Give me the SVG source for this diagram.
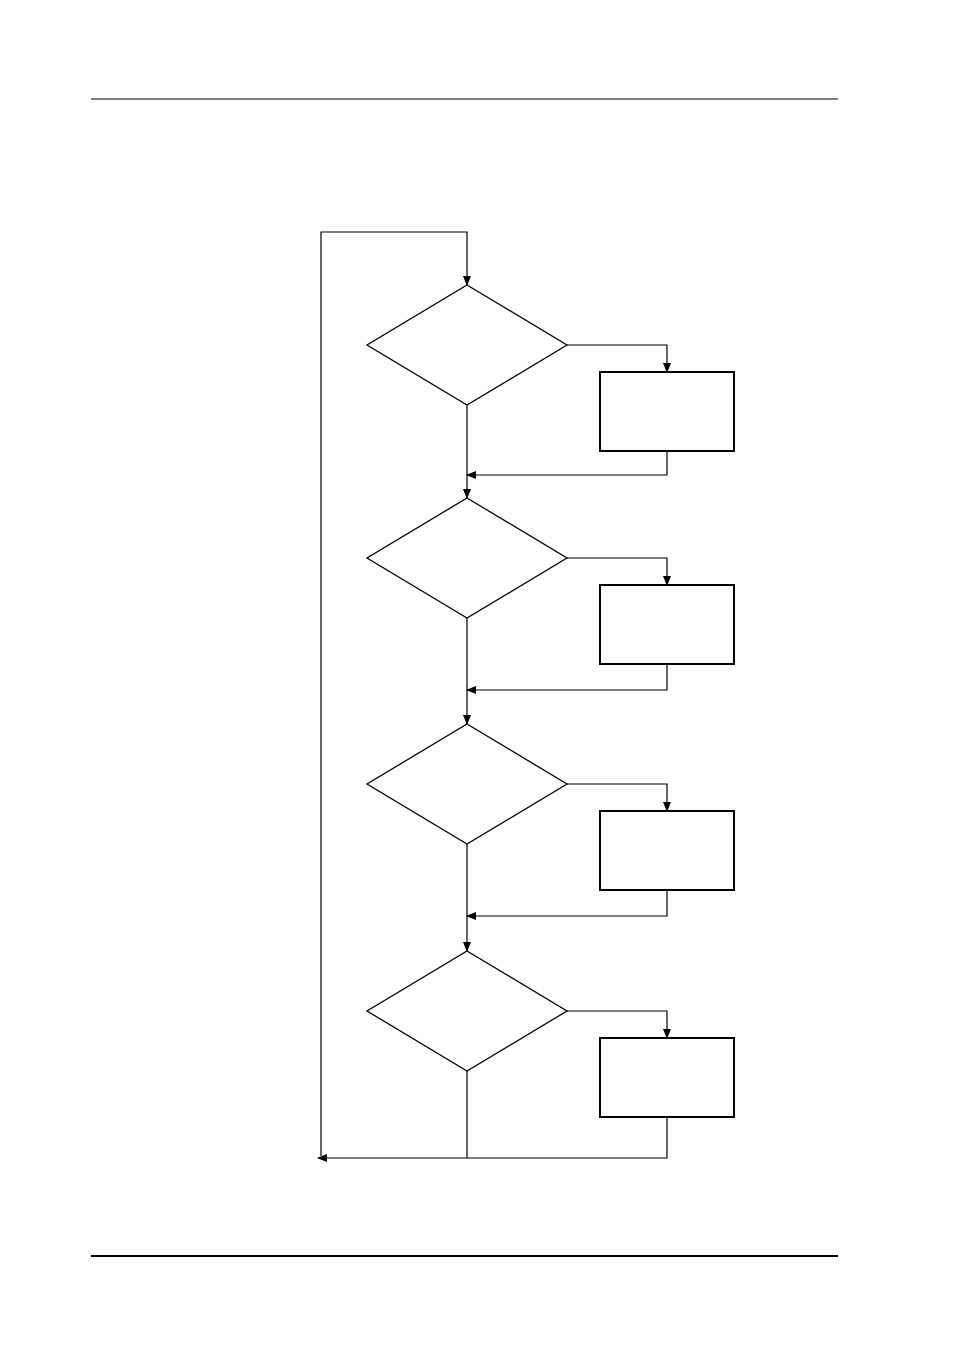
<svg xmlns="http://www.w3.org/2000/svg" width="954" height="1348" viewBox="0 0 954 1348">
<style>.l{fill:none;stroke:#000;stroke-width:1.2}.d{fill:#fff;stroke:#000;stroke-width:1.3}.b{fill:#fff;stroke:#000;stroke-width:2}</style>
<defs><marker id="a" markerWidth="10" markerHeight="10" refX="9" refY="4" orient="auto" markerUnits="userSpaceOnUse"><path d="M0,0L10,4L0,8z"/></marker></defs>
<rect width="954" height="1348" fill="#fff"/>
<line x1="91" y1="99" x2="838" y2="99" stroke="#000" stroke-width="1"/>
<line x1="91" y1="1256" x2="838" y2="1256" stroke="#000" stroke-width="2"/>
<g id="connectors">
<path class="l" d="M321,1156V232H467V285" marker-end="url(#a)"/>
<path class="l" d="M567,345H667V372" marker-end="url(#a)"/>
<path class="l" d="M667,451V475H467" marker-end="url(#a)"/>
<path class="l" d="M467,405V498" marker-end="url(#a)"/>
<path class="l" d="M567,558H667V585" marker-end="url(#a)"/>
<path class="l" d="M667,664V690H467" marker-end="url(#a)"/>
<path class="l" d="M467,618V724" marker-end="url(#a)"/>
<path class="l" d="M567,784H667V811" marker-end="url(#a)"/>
<path class="l" d="M667,890V916H467" marker-end="url(#a)"/>
<path class="l" d="M467,844V951" marker-end="url(#a)"/>
<path class="l" d="M567,1011H667V1038" marker-end="url(#a)"/>
<path class="l" d="M667,1117V1158H318" marker-end="url(#a)"/>
<path class="l" d="M467,1071V1158"/>
</g>
<g id="d1"><path class="d" d="M467,285L567,345L467,405L367,345z"/></g>
<g id="p1"><rect class="b" x="600" y="372" width="134" height="79"/></g>
<g id="d2"><path class="d" d="M467,498L567,558L467,618L367,558z"/></g>
<g id="p2"><rect class="b" x="600" y="585" width="134" height="79"/></g>
<g id="d3"><path class="d" d="M467,724L567,784L467,844L367,784z"/></g>
<g id="p3"><rect class="b" x="600" y="811" width="134" height="79"/></g>
<g id="d4"><path class="d" d="M467,951L567,1011L467,1071L367,1011z"/></g>
<g id="p4"><rect class="b" x="600" y="1038" width="134" height="79"/></g>
</svg>
